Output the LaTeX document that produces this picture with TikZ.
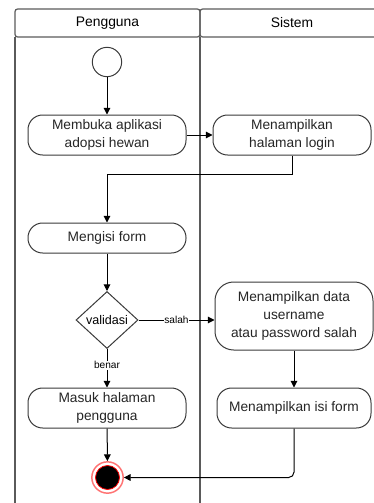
\documentclass[tikz,border=0pt]{standalone}
\usepackage{fontspec}
\setmainfont{Liberation Sans}
\usetikzlibrary{arrows.meta,shapes.geometric}
\definecolor{lanec}{HTML}{5A5A5A}
\definecolor{boxc}{HTML}{3A3A3A}
\begin{document}
\begin{tikzpicture}[x=0.75pt,y=-0.75pt,
  lane/.style={draw=lanec,line width=0.9pt},
  act/.style={draw=boxc,line width=0.75pt,rounded corners=11pt,fill=white,
    minimum width=118.5pt,minimum height=30pt,align=center,inner sep=1pt,
    font=\fontsize{10.3}{13.6}\selectfont,text=black!85},
  dec/.style={draw=boxc,line width=0.75pt,shape=diamond,fill=white,inner sep=0pt,
    minimum width=46.5pt,minimum height=42.75pt,font=\fontsize{9.4}{11}\selectfont},
  arr/.style={line width=0.75pt,-{Triangle[length=5pt,width=5pt]}},
  elab/.style={fill=white,inner sep=0.5pt,font=\fontsize{7.6}{9}\selectfont},
  hdr/.style={font=\fontsize{10.4}{12}\selectfont}]
\useasboundingbox (0,0) rectangle (374,503);
\clip (0,0) rectangle (374,503);
% swimlanes
\draw[lane,rounded corners=2pt] (15,9) rectangle (200,37);
\draw[lane,rounded corners=2pt] (200,9) rectangle (395,37);
\draw[lane] (15,37) -- (15,520);
\draw[lane] (200,37) -- (200,520);
\node[hdr] (h1) at (107.5,23) {Pengguna};
\node[hdr] (h2) at (292,23) {Sistem};
% nodes
\node[circle,draw=boxc,line width=0.75pt,minimum size=22pt,inner sep=0pt] (start) at (107,62) {};
\node[act] (b1) at (107,135) {Membuka aplikasi\\adopsi hewan};
\node[act] (b2) at (292,135) {Menampilkan\\halaman login};
\node[act,minimum height=22.5pt] (b3) at (107,238) {Mengisi form};
\node[dec] (d) at (107,320) {validasi};
\node[act,minimum height=51pt,rounded corners=14pt] (b4) at (294,316) {Menampilkan data\\username\\atau password salah};
\node[act] (b5) at (107,408) {Masuk halaman\\pengguna};
\node[act,minimum width=115.5pt] (b6) at (294,408) {Menampilkan isi form};
\node[circle,draw=red!55,line width=1.1pt,fill=white,minimum size=23.5pt,inner sep=0pt] (end) at (107.5,477.5) {};
\node[circle,fill=black,draw=red,line width=0.6pt,minimum size=18pt,inner sep=0pt] (endin) at (107.5,477.5) {};
% edges
\draw[arr] (start) -- (b1);
\draw[arr] (b1) -- (b2);
\draw[arr] (b2.south) -- ++(0,19) -| (b3.north);
\draw[arr] (b3) -- (d);
\draw[arr] (d.east) -- node[elab,pos=0.5] {salah} (d.east -| b4.west);
\draw[arr] (d) -- node[elab,pos=0.42] {benar} (b5);
\draw[arr] (b4.south -| b6.north) -- (b6.north);
\draw[arr] (b5) -- (end);
\draw[arr,rounded corners=4pt] (b6.south) |- (end.east);
\end{tikzpicture}
\end{document}
